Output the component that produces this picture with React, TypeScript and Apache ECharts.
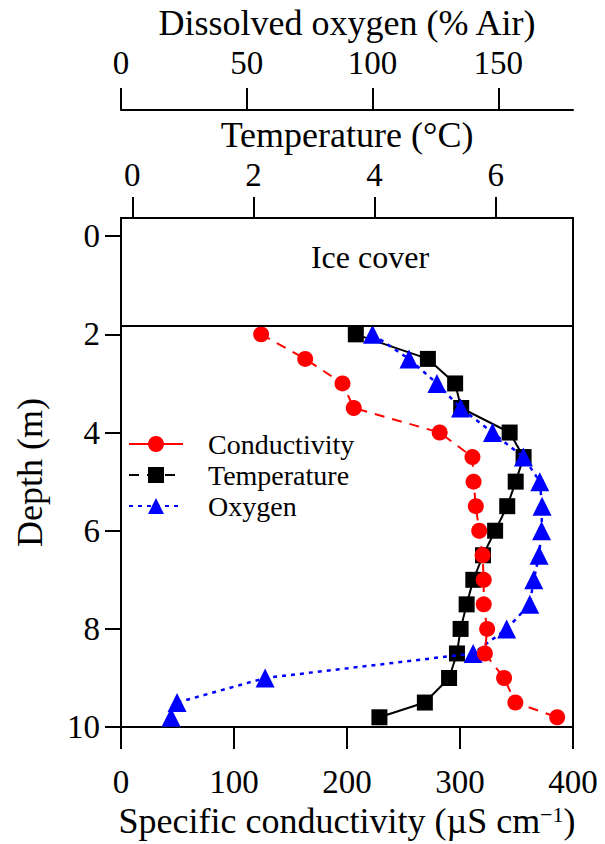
import React, { useEffect, useRef } from 'react';
import * as echarts from 'echarts';

const depths = [2, 2.5, 3, 3.5, 4, 4.5, 5, 5.5, 6, 6.5, 7, 7.5, 8, 8.5, 9, 9.5, 9.8];
const conductivity = [124, 163, 196, 206, 282, 311, 312, 314, 317, 320, 321, 321, 324, 322, 339, 349, 386];
const temperature = [3.69, 4.88, 5.33, 5.43, 6.23, 6.46, 6.33, 6.19, 5.99, 5.79, 5.63, 5.52, 5.42, 5.36, 5.23, 4.83, 4.08];
const oxygen = [100, 114.5, 125.6, 135, 147.7, 160, 166.5, 167.4, 167.2, 166.2, 164.1, 162.5, 153.3, 140, 57.3, 22.3, 19.9];

const depthTicks = [0, 2, 4, 6, 8, 10];
const conductivityTicks = [0, 100, 200, 300, 400];
const temperatureTicks = [0, 2, 4, 6];
const oxygenTicks = [0, 50, 100, 150];
const iceDepth = 1.83;

const FONT = '"Liberation Serif", "Times New Roman", "DejaVu Serif", serif';
const BLACK = '#000';

const axisLine = { show: true, onZero: false, lineStyle: { color: BLACK, width: 2 } };

export default function App() {
  const ref = useRef<HTMLDivElement>(null);
  useEffect(() => {
    if (!ref.current) return;
    const chart = echarts.init(ref.current, null, { renderer: 'svg' });
    const option: any = {
      animation: false,
      textStyle: { fontFamily: FONT, color: BLACK },
      grid: {
        left: 121, right: 32, top: 218, bottom: 110,
        show: true, borderColor: BLACK, borderWidth: 2, backgroundColor: 'transparent',
      },
      xAxis: [
        {
          type: 'value', position: 'bottom', min: 0, max: 400,
          axisLine,
          axisTick: { show: true, inside: false, length: 22, customValues: conductivityTicks, lineStyle: { color: BLACK, width: 2 } },
          axisLabel: { fontSize: 33, color: BLACK, fontFamily: FONT, margin: 38, customValues: conductivityTicks },
          splitLine: { show: false },
          name: '{a|Specific conductivity (µS cm}{b|−1}{a|)}',
          nameLocation: 'middle', nameGap: 71,
          nameTextStyle: {
            rich: {
              a: { fontSize: 36, fontFamily: FONT, color: BLACK },
              b: { fontSize: 22, fontFamily: FONT, color: BLACK, verticalAlign: 'top' },
            },
          },
        },
        {
          type: 'value', position: 'top', min: -0.187, max: 7.276,
          axisLine,
          axisTick: { show: true, inside: false, length: 21, customValues: temperatureTicks, lineStyle: { color: BLACK, width: 2 } },
          axisLabel: { fontSize: 33, color: BLACK, fontFamily: FONT, margin: 27, customValues: temperatureTicks },
          splitLine: { show: false },
          name: 'Temperature (°C)', nameLocation: 'middle', nameGap: 60,
          nameTextStyle: { fontSize: 36, fontFamily: FONT, color: BLACK },
        },
        {
          type: 'value', position: 'top', offset: 108, min: 0, max: 179.7,
          axisLine,
          axisTick: { show: true, inside: false, length: 22, customValues: oxygenTicks, lineStyle: { color: BLACK, width: 2 } },
          axisLabel: { fontSize: 33, color: BLACK, fontFamily: FONT, margin: 31, customValues: oxygenTicks },
          splitLine: { show: false },
          name: 'Dissolved oxygen (% Air)', nameLocation: 'middle', nameGap: 62,
          nameTextStyle: { fontSize: 36, fontFamily: FONT, color: BLACK },
        },
      ],
      yAxis: {
        type: 'value', inverse: true, min: -0.37, max: 10,
        axisLine,
        axisTick: { show: true, inside: false, length: 16, customValues: depthTicks, lineStyle: { color: BLACK, width: 2 } },
        axisLabel: { fontSize: 33, color: BLACK, fontFamily: FONT, margin: 21, customValues: depthTicks },
        splitLine: { show: false },
        name: 'Depth (m)', nameLocation: 'middle', nameGap: 73, nameRotate: 90,
        nameTextStyle: { fontSize: 36, fontFamily: FONT, color: BLACK },
      },
      legend: {
        orient: 'vertical', left: 128, top: 430, padding: 0,
        itemWidth: 54, itemHeight: 20, itemGap: 3,
        textStyle: { fontSize: 28, fontFamily: FONT, color: BLACK, padding: [0, 0, 0, 20] },
        data: [
          { name: 'Conductivity', lineStyle: { type: 'solid' } },
          { name: 'Temperature', lineStyle: { type: [10, 8] } },
          { name: 'Oxygen', lineStyle: { type: [4, 5] } },
        ],
      },
      graphic: [
        {
          type: 'text', x: 370, y: 257, z: 10,
          style: { text: 'Ice cover', fontSize: 32, fontFamily: FONT, fill: BLACK, align: 'center', verticalAlign: 'middle' },
        },
      ],
      series: [
        {
          name: 'Temperature', type: 'line', xAxisIndex: 1, yAxisIndex: 0, z: 2,
          data: depths.map((d, i) => [temperature[i], d]),
          symbol: 'rect', symbolSize: 16,
          itemStyle: { color: BLACK },
          lineStyle: { color: BLACK, width: 2, type: 'solid' },
          markLine: {
            silent: true, symbol: 'none', label: { show: false },
            lineStyle: { color: BLACK, width: 2, type: 'solid' },
            data: [{ yAxis: iceDepth }],
          },
        },
        {
          name: 'Oxygen', type: 'line', xAxisIndex: 2, yAxisIndex: 0, z: 3,
          data: depths.map((d, i) => [oxygen[i], d]),
          symbol: 'triangle', symbolSize: 19,
          itemStyle: { color: '#0000ff' },
          lineStyle: { color: '#0000ff', width: 2.5, type: [4, 5] },
        },
        {
          name: 'Conductivity', type: 'line', xAxisIndex: 0, yAxisIndex: 0, z: 4,
          data: depths.map((d, i) => [conductivity[i], d]),
          symbol: 'circle', symbolSize: 16,
          itemStyle: { color: '#ff0000' },
          lineStyle: { color: '#ff0000', width: 2, type: [10, 8] },
        },
      ],
    };
    chart.setOption(option);
    return () => chart.dispose();
  }, []);
  return <div ref={ref} style={{ position: 'fixed', left: 0, top: 0, width: 605, height: 844, background: '#fff' }} />;
}
